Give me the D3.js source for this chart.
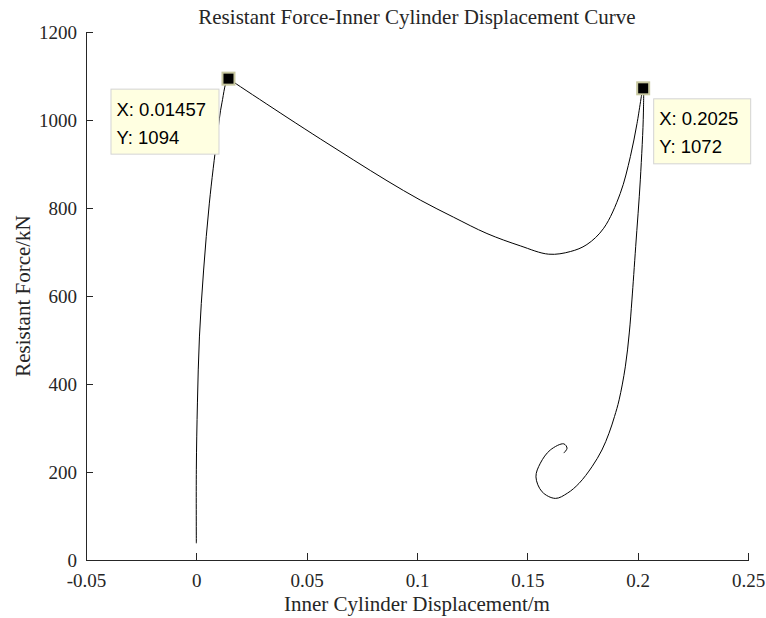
<!DOCTYPE html>
<html lang="en">
<head>
    <meta charset="UTF-8">
    <title>Resistant Force-Inner Cylinder Displacement Curve</title>
    <style>
        body {
            margin: 0;
            padding: 0;
            background: #fff;
        }
        svg {
            display: block;
        }
        .axis path, .axis line {
            stroke: #262626;
            stroke-width: 1px;
            shape-rendering: crispEdges;
        }
        .axis text {
            fill: #262626;
        }
        .label {
            font-family: "Liberation Serif", "Times New Roman", serif;
            font-size: 21px;
            fill: #262626;
        }
        .curve {
            fill: none;
            stroke: #000;
            stroke-width: 1px;
        }
        .tip rect.box {
            fill: #ffffe1;
            stroke: #d4d4d4;
            stroke-width: 1px;
        }
        .tip text {
            font-family: "Liberation Sans", Arial, sans-serif;
            font-size: 18.5px;
            fill: #000;
        }
        .marker {
            fill: #000;
            stroke: #c8c8a0;
            stroke-width: 2px;
        }
    </style>
</head>
<body>
    <div id="chart"></div>

    <script src="https://d3js.org/d3.v7.min.js"></script>
    <script>
        // displacement (m) and resistant force (kN)
        const dispX = [
            0.0, 0.0, 0.0005, 0.0014, 0.0033, 0.0059, 0.0094, 0.0116, 0.01457,
            0.0181, 0.0411, 0.0562, 0.0713, 0.0864, 0.1015, 0.1166, 0.1317, 0.1468,
            0.1597, 0.1695, 0.1770, 0.1846, 0.1921, 0.1967, 0.1997, 0.2025,
            0.2026, 0.2012, 0.1991, 0.1974, 0.1962, 0.1944, 0.1916, 0.1895, 0.1870,
            0.1838, 0.1793, 0.1734, 0.1682, 0.1627, 0.1567, 0.1539, 0.1559, 0.1604,
            0.1665, 0.1680, 0.1665
        ];
        const forceY = [
            38, 205, 357, 507, 659, 811, 961, 1039, 1094,
            1082, 1006, 957, 909, 862, 818, 779, 742, 714,
            695, 701, 717, 754, 833, 917, 992, 1072,
            1016, 864, 712, 591, 516, 439, 364, 326, 288,
            250, 212, 174, 152, 140, 155, 189, 220, 250,
            264, 254, 243
        ];

        const xTicks = [-0.05, 0, 0.05, 0.1, 0.15, 0.2, 0.25];
        const yTicks = [0, 200, 400, 600, 800, 1000, 1200];
        const xTickLabels = ["-0.05", "0", "0.05", "0.1", "0.15", "0.2", "0.25"];

        // data tips
        const tipX = [0.01457, 0.2025];
        const tipY = [1094, 1072];
        const tipText = [["X: 0.01457", "Y: 1094"], ["X: 0.2025", "Y: 1072"]];

        const W = 766, H = 618;
        const margin = { top: 32, right: 18, bottom: 58, left: 86 };
        const serif = "'Liberation Serif', 'Times New Roman', serif";

        const svg = d3.select("#chart").append("svg")
            .attr("width", W)
            .attr("height", H);

        const x = d3.scaleLinear().domain([-0.05, 0.25]).range([margin.left, W - margin.right]);
        const y = d3.scaleLinear().domain([0, 1200]).range([H - margin.bottom, margin.top]);

        // axes (ticks point inward, no box)
        svg.append("g")
            .attr("class", "axis")
            .attr("transform", "translate(0," + (H - margin.bottom) + ")")
            .call(d3.axisBottom(x).tickValues(xTicks)
                .tickFormat((d, i) => xTickLabels[i])
                .tickSizeInner(-7).tickSizeOuter(0).tickPadding(14))
            .attr("font-family", serif)
            .attr("font-size", 19);

        svg.append("g")
            .attr("class", "axis")
            .attr("transform", "translate(" + margin.left + ",0)")
            .call(d3.axisLeft(y).tickValues(yTicks)
                .tickFormat(d3.format("d"))
                .tickSizeInner(-7).tickSizeOuter(0).tickPadding(9))
            .attr("font-family", serif)
            .attr("font-size", 19);

        // title and axis labels
        const midX = (x.range()[0] + x.range()[1]) / 2;
        svg.append("text")
            .attr("class", "label")
            .attr("x", midX)
            .attr("y", 24)
            .attr("text-anchor", "middle")
            .text("Resistant Force-Inner Cylinder Displacement Curve");

        svg.append("text")
            .attr("class", "label")
            .attr("x", midX)
            .attr("y", 611)
            .attr("text-anchor", "middle")
            .text("Inner Cylinder Displacement/m");

        svg.append("text")
            .attr("class", "label")
            .attr("transform", "translate(30," + (y.range()[0] + y.range()[1]) / 2 + ") rotate(-90)")
            .attr("text-anchor", "middle")
            .text("Resistant Force/kN");

        // curve
        const pts = dispX.map((d, i) => [d, forceY[i]]);
        const line = d3.line()
            .x(d => x(d[0]))
            .y(d => y(d[1]))
            .curve(d3.curveCatmullRom.alpha(0.5));

        svg.append("path")
            .datum(pts)
            .attr("class", "curve")
            .attr("d", line);

        // data tip boxes (offsets in pixels from the marker)
        const boxOffset = [[-118, 10], [10, 10]];
        const boxSize = [[108, 65], [97, 65]];

        tipX.forEach((tx, i) => {
            const px = x(tx), py = y(tipY[i]);
            const g = svg.append("g").attr("class", "tip");
            const bx = px + boxOffset[i][0], by = py + boxOffset[i][1];
            g.append("rect")
                .attr("class", "box")
                .attr("x", bx + 0.5)
                .attr("y", by + 0.5)
                .attr("width", boxSize[i][0])
                .attr("height", boxSize[i][1]);
            tipText[i].forEach((t, j) => {
                g.append("text")
                    .attr("x", bx + 6)
                    .attr("y", by + 27 + j * 28)
                    .text(t);
            });
            svg.append("rect")
                .attr("class", "marker")
                .attr("x", px - 6)
                .attr("y", py - 6)
                .attr("width", 12)
                .attr("height", 12);
        });
    </script>
</body>
</html>
